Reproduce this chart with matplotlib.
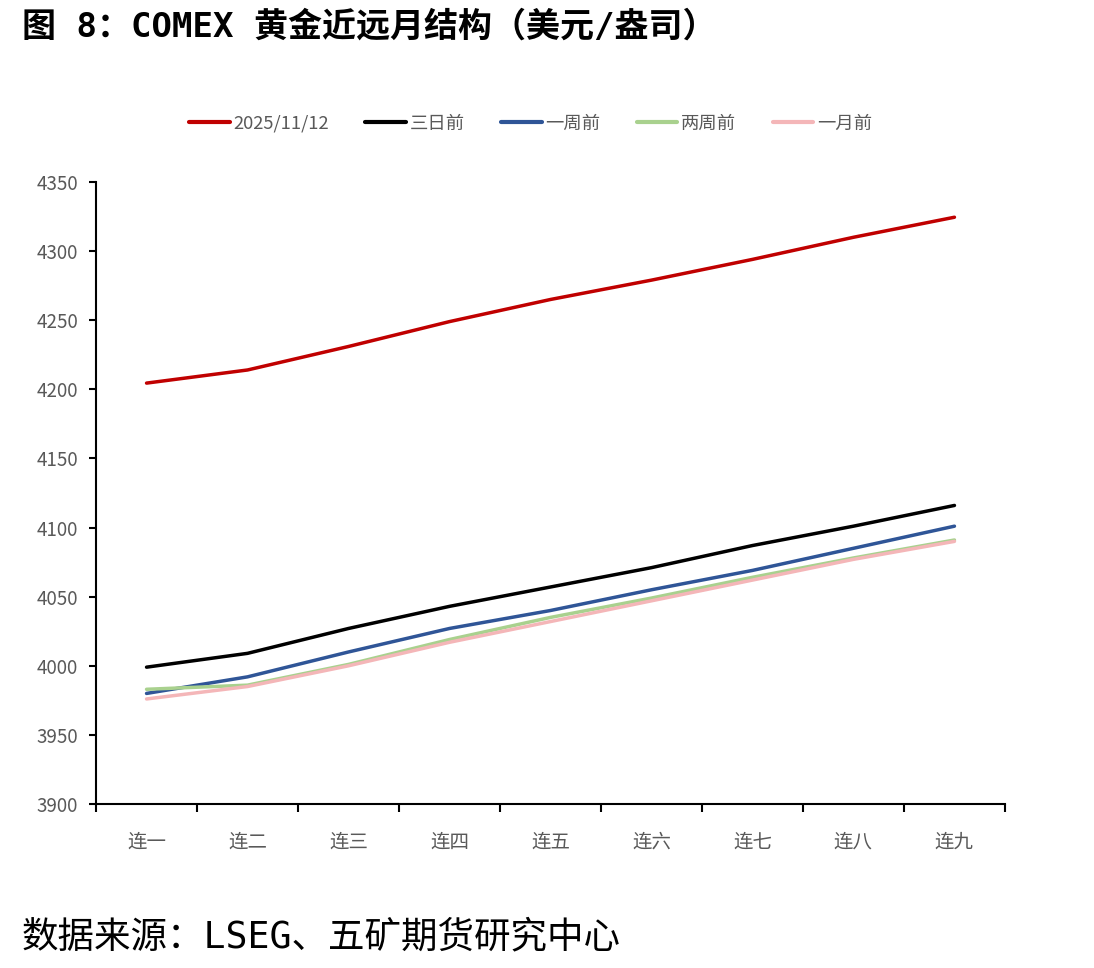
import matplotlib
matplotlib.use('Agg')
import matplotlib.pyplot as plt

plt.rcParams['font.family'] = ['Noto Sans CJK SC', 'DejaVu Sans']

# ── data ──────────────────────────────────────────────────────────────────────
contracts = ['连一', '连二', '连三', '连四', '连五', '连六', '连七', '连八', '连九']
latest    = [4204.5, 4214, 4231, 4249, 4265, 4279, 4294, 4310, 4324.5]
three_day = [3999, 4009, 4027, 4043, 4057, 4071, 4087, 4101, 4116]
one_week  = [3980, 3992, 4010, 4027, 4040, 4055, 4069, 4085, 4101]
two_week  = [3983, 3986, 4001, 4019, 4035, 4049, 4064, 4078, 4091]
one_month = [3976, 3985, 4000, 4017, 4032, 4047, 4062, 4077, 4090]

series = [
    ('2025/11/12', latest,    '#C00000'),
    ('三日前',      three_day, '#000000'),
    ('一周前',      one_week,  '#2F5597'),
    ('两周前',      two_week,  '#A9D18E'),
    ('一月前',      one_month, '#F4B6B8'),
]

TEXT_GREY = '#595959'
HEAD_FONT = ['DejaVu Sans Mono', 'Noto Sans CJK SC']

fig = plt.figure(figsize=(10.94, 9.68), dpi=100)
ax = fig.add_axes([0.0878, 0.1694, 0.9186 - 0.0878, 0.812 - 0.1694])

x = list(range(len(contracts)))
for label, vals, color in series:
    ax.plot(x, vals, color=color, linewidth=2.5, label=label,
            solid_capstyle='round')

ax.set_ylim(3900, 4350)
ax.set_yticks(range(3900, 4351, 50))
ax.set_xlim(-0.5, len(contracts) - 0.5)
ax.set_xticks(x)
ax.set_xticklabels(contracts)
# category boundary ticks
ax.set_xticks([i - 0.5 for i in range(len(contracts) + 1)], minor=True)
ax.tick_params(axis='x', which='major', length=0, pad=20,
               labelsize=14, labelcolor=TEXT_GREY)
ax.tick_params(axis='x', which='minor', length=6, width=1.5, direction='out',
               color='black')
ax.tick_params(axis='y', length=5, width=1.5, direction='out',
               labelsize=13.5, labelcolor=TEXT_GREY, pad=8)

for s in ['top', 'right']:
    ax.spines[s].set_visible(False)
for s in ['left', 'bottom']:
    ax.spines[s].set_linewidth(1.5)
    ax.spines[s].set_color('black')

leg = fig.legend(loc='center', bbox_to_anchor=(0.485, 0.872), ncol=5,
                 frameon=False, fontsize=13.2, handlelength=2.2,
                 handletextpad=0.2, columnspacing=2.0)
for t in leg.get_texts():
    t.set_color(TEXT_GREY)
for h in leg.get_lines():
    h.set_linewidth(3)

fig.text(0.02, 0.972, '图 8：COMEX 黄金近远月结构（美元/盎司）',
         fontsize=24.5, fontweight='bold', ha='left', va='center',
         family=HEAD_FONT)
fig.text(0.02, 0.032, '数据来源：LSEG、五矿期货研究中心',
         fontsize=26.3, ha='left', va='center', family=HEAD_FONT)

fig.savefig('out.png', dpi=100)
